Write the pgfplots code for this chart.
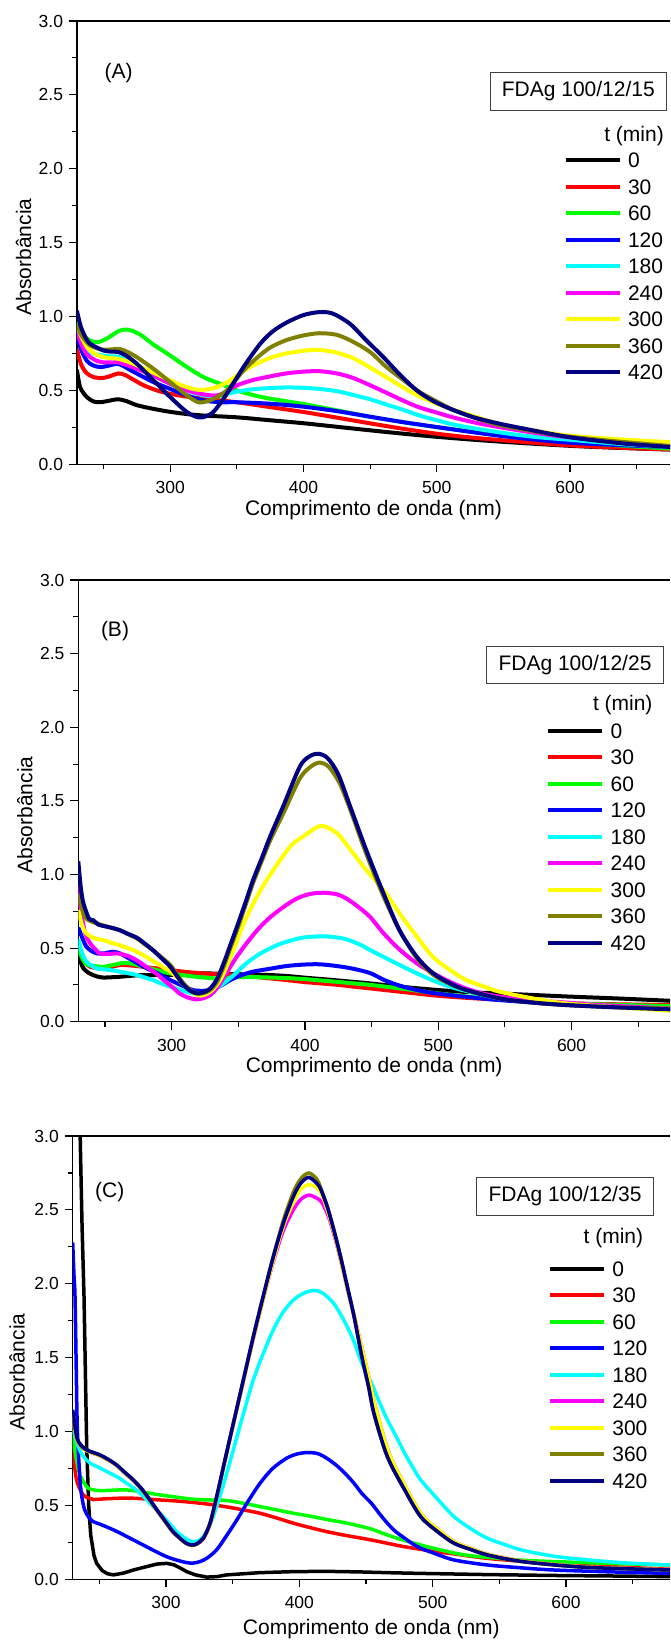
\documentclass[border=0pt]{standalone}
\usepackage{fontspec}
\setmainfont{Liberation Sans}
\usepackage{pgfplots}
\pgfplotsset{compat=1.18}
\definecolor{cRed}{RGB}{255,0,0}
\definecolor{cGreen}{RGB}{0,255,0}
\definecolor{cBlue}{RGB}{0,0,255}
\definecolor{cCyan}{RGB}{0,255,255}
\definecolor{cMag}{RGB}{255,0,255}
\definecolor{cYel}{RGB}{255,255,0}
\definecolor{cOlive}{RGB}{128,128,0}
\definecolor{cNavy}{RGB}{0,0,128}
\newcommand{\lbfont}{\fontsize{21}{21}\selectfont}
\newcommand{\tkfont}{\fontsize{17.5}{17.5}\selectfont}
\pgfplotsset{
  common/.style={
    scale only axis,
    xmin=230, ymin=0, ymax=3,
    axis x line*=box, axis y line*=left,
    axis line style={line width=1.3pt, -},
    xtick={300,400,500,600}, minor xtick={250,350,450,550,650},
    ytick={0,0.5,...,3.0}, minor ytick={0.25,0.75,...,2.75},
    xtick pos=left, ytick pos=left,
    tick align=outside,
    major tick length=8pt, minor tick length=5pt,
    every tick/.style={black, line width=1.1pt},
    /pgf/number format/assume math mode=true,
    xticklabel style={font=\tkfont, anchor=north, inner sep=0pt, yshift=-9pt},
    yticklabel style={font=\tkfont, anchor=east, inner sep=0pt, xshift=-5.7pt,
      /pgf/number format/fixed, /pgf/number format/fixed zerofill, /pgf/number format/precision=1},
    xlabel={Comprimento de onda (nm)}, ylabel={Absorbância},
    label style={font=\lbfont},
    xlabel style={anchor=center},
    ylabel style={anchor=center},
    every axis plot/.append style={smooth, line width=4pt},
    legend style={anchor=north west, draw=none, fill=none, inner xsep=0pt, inner ysep=0pt,
      row sep=0pt, column sep=6.5pt, font=\lbfont,
      nodes={inner sep=0pt, text height=20.75pt, text depth=5.75pt}},
    legend cell align=left,
    legend image code/.code={\draw[##1, line width=4pt] (0pt,0pt) -- (54pt,0pt);},
    legend entries={0,30,60,120,180,240,300,360,420},
  }
}
\begin{document}
\begin{tikzpicture}
\useasboundingbox (0,0) rectangle (670pt,-1641pt);
% ---------------- Panel A ----------------
\begin{axis}[common, at={(76.9pt,-21pt)}, anchor=north west,
  width=593.1pt, height=443.3pt, xmax=675,
  xlabel style={at={(axis description cs:0.5,-0.1031)}},
  ylabel style={at={(axis description cs:-0.0900,0.468)}},
  legend style={at={(axis description cs:0.8201,0.7163)}}]
\addplot[black] coordinates {(230,0.64) (232.5,0.52) (237.5,0.455) (242.5,0.425) (247.5,0.42) (254,0.43) (261,0.44) (268,0.425) (275,0.40) (287.5,0.375) (300,0.355) (312.5,0.34) (325,0.33) (350,0.318) (375,0.298) (400,0.278) (425,0.254) (450,0.23) (475,0.207) (500,0.186) (525,0.168) (550,0.152) (575,0.138) (600,0.125) (625,0.115) (650,0.107) (675,0.1)};
\addplot[cRed] coordinates {(230,0.78) (233,0.68) (237,0.62) (242.5,0.59) (250,0.585) (256,0.6) (261,0.615) (266,0.605) (272,0.575) (280,0.535) (290,0.5) (300,0.477) (312.5,0.458) (325,0.444) (337.5,0.432) (350,0.42) (375,0.387) (400,0.354) (425,0.316) (450,0.277) (475,0.24) (500,0.207) (525,0.182) (550,0.162) (575,0.144) (600,0.128) (625,0.117) (650,0.108) (675,0.1)};
\addplot[cGreen] coordinates {(230,0.97) (233,0.9) (237.5,0.85) (242,0.83) (246,0.827) (250,0.84) (255,0.865) (261,0.9) (266,0.912) (271,0.905) (278,0.875) (287.5,0.81) (300,0.736) (312.5,0.658) (325,0.59) (337.5,0.545) (350,0.5) (362.5,0.468) (375,0.444) (400,0.408) (425,0.365) (450,0.322) (475,0.285) (500,0.252) (525,0.222) (550,0.196) (575,0.172) (600,0.152) (637,0.127) (675,0.106)};
\addplot[cBlue] coordinates {(230,0.88) (233,0.78) (237.5,0.70) (242,0.67) (247.5,0.658) (254,0.668) (260,0.68) (265,0.665) (270,0.638) (278,0.6) (287.5,0.556) (300,0.51) (312.5,0.466) (325,0.432) (337.5,0.42) (350,0.42) (375,0.41) (400,0.39) (425,0.36) (450,0.322) (475,0.285) (500,0.252) (525,0.22) (550,0.19) (575,0.166) (600,0.146) (637,0.13) (675,0.117)};
\addplot[cCyan] coordinates {(230,0.92) (233,0.84) (237,0.78) (242,0.75) (250,0.736) (256,0.73) (261,0.728) (266,0.71) (272,0.685) (280,0.645) (287.5,0.6) (300,0.545) (312.5,0.5) (325,0.466) (335,0.462) (342,0.475) (350,0.492) (362,0.508) (375,0.516) (387,0.52) (400,0.518) (412,0.51) (425,0.495) (437,0.47) (450,0.44) (462,0.405) (475,0.368) (487,0.33) (500,0.298) (512,0.27) (525,0.248) (540,0.226) (560,0.2) (580,0.18) (600,0.166) (637,0.138) (675,0.117)};
\addplot[cMag] coordinates {(230,0.9) (233,0.82) (237,0.75) (240,0.725) (245,0.7) (250,0.69) (256,0.69) (261,0.69) (268,0.67) (275,0.646) (287.5,0.6) (300,0.545) (312.5,0.5) (325,0.473) (335,0.466) (342,0.49) (350,0.534) (362,0.57) (375,0.595) (387,0.615) (400,0.627) (412,0.63) (425,0.615) (437,0.585) (450,0.535) (462,0.485) (475,0.43) (487,0.385) (500,0.35) (512,0.318) (530,0.28) (548,0.25) (572,0.215) (597,0.185) (635,0.155) (675,0.128)};
\addplot[cYel] coordinates {(230,0.95) (233,0.87) (237,0.8) (240,0.77) (245,0.74) (250,0.725) (256,0.718) (261,0.714) (268,0.695) (275,0.67) (287.5,0.62) (300,0.568) (310,0.53) (320,0.505) (330,0.51) (337,0.53) (345,0.568) (353,0.62) (362.5,0.67) (375,0.72) (387,0.75) (400,0.768) (412,0.775) (425,0.755) (437,0.72) (450,0.655) (462,0.59) (475,0.52) (487,0.46) (500,0.41) (512,0.37) (530,0.32) (548,0.27) (572,0.23) (597,0.196) (635,0.17) (675,0.15)};
\addplot[cOlive] coordinates {(230,0.95) (233,0.88) (237,0.83) (240,0.804) (245,0.785) (250,0.775) (256,0.778) (262.5,0.78) (268,0.76) (275,0.725) (287.5,0.646) (300,0.556) (312.5,0.466) (321,0.42) (327,0.425) (333,0.445) (342.5,0.5) (355,0.635) (365,0.72) (375,0.79) (387,0.84) (400,0.872) (412,0.887) (425,0.876) (437,0.83) (450,0.76) (462,0.66) (475,0.57) (487,0.49) (500,0.425) (512,0.37) (530,0.31) (548,0.264) (572,0.225) (597,0.19) (635,0.155) (675,0.124)};
\addplot[cNavy] coordinates {(230,1.04) (233,0.93) (237,0.85) (240,0.815) (245,0.79) (250,0.77) (256,0.762) (261,0.76) (267,0.735) (275,0.68) (287.5,0.568) (300,0.455) (312.5,0.354) (321,0.318) (327,0.325) (333,0.36) (342.5,0.477) (355,0.658) (367.5,0.815) (377,0.9) (387.5,0.96) (400,1.01) (412,1.03) (422,1.02) (435,0.95) (447,0.84) (460,0.725) (472,0.61) (485,0.5) (497,0.43) (510,0.376) (527,0.32) (547,0.275) (572,0.23) (597,0.187) (622,0.158) (647,0.135) (675,0.117)};
\end{axis}
\node[draw=black!75, line width=0.8pt, minimum width=176.6pt, minimum height=37.3pt, inner sep=0pt, font=\lbfont] at (578.3pt,-91.35pt) {FDAg 100/12/15};
\node[anchor=base east, inner sep=0pt, font=\lbfont] at (664pt,-141.3pt) {t (min)};
\node[inner sep=0pt, font=\lbfont] at (118.6pt,-72.7pt) {(A)};
% ---------------- Panel B ----------------
\begin{axis}[common, at={(78.3pt,-580pt)}, anchor=north west,
  width=591.7pt, height=441.7pt, xmax=673.8,
  xlabel style={at={(axis description cs:0.5,-0.1032)}},
  ylabel style={at={(axis description cs:-0.0904,0.468)}},
  legend style={at={(axis description cs:0.7904,0.6888)}}]
\addplot[black] coordinates {(230,0.47) (232,0.4) (234,0.36) (238,0.33) (241,0.317) (245,0.305) (249,0.3) (255,0.302) (261,0.305) (274,0.315) (285,0.317) (299,0.318) (312,0.322) (324,0.328) (336,0.326) (349,0.323) (362,0.32) (374,0.317) (387,0.31) (399,0.3) (412,0.29) (425,0.28) (437,0.27) (449,0.26) (475,0.235) (500,0.215) (525,0.2) (550,0.19) (575,0.18) (600,0.17) (637,0.157) (674,0.142)};
\addplot[cRed] coordinates {(230,0.52) (233,0.44) (236,0.39) (239,0.373) (244,0.365) (249,0.362) (255,0.372) (261,0.385) (268,0.383) (274,0.378) (281,0.37) (289,0.362) (299,0.35) (311,0.338) (324,0.328) (336,0.322) (349,0.317) (361,0.306) (374,0.294) (387,0.282) (399,0.27) (412,0.26) (425,0.25) (437,0.238) (449,0.226) (475,0.2) (500,0.176) (525,0.16) (550,0.147) (575,0.135) (600,0.124) (637,0.118) (674,0.113)};
\addplot[cGreen] coordinates {(230,0.5) (233,0.43) (236,0.39) (240,0.38) (245,0.375) (249,0.373) (256,0.385) (262,0.397) (266,0.4) (272,0.39) (279,0.373) (289,0.35) (299,0.328) (311,0.313) (324,0.3) (336,0.294) (349,0.303) (361,0.303) (374,0.3) (387,0.296) (399,0.29) (412,0.28) (425,0.27) (437,0.26) (449,0.25) (475,0.222) (500,0.192) (525,0.168) (550,0.147) (575,0.133) (600,0.124) (637,0.114) (674,0.106)};
\addplot[cBlue] coordinates {(230,0.64) (233,0.57) (236,0.51) (240,0.48) (244,0.464) (250,0.465) (256,0.475) (261,0.465) (266,0.44) (272,0.41) (279,0.373) (289,0.33) (299,0.283) (308,0.245) (316,0.215) (323,0.21) (329,0.215) (337,0.245) (344,0.283) (352,0.315) (361,0.34) (374,0.36) (386,0.378) (399,0.388) (411,0.39) (424,0.378) (436,0.36) (449,0.33) (459,0.285) (471,0.245) (484,0.215) (496,0.195) (509,0.181) (525,0.165) (546,0.147) (571,0.13) (596,0.115) (635,0.098) (674,0.084)};
\addplot[cCyan] coordinates {(230,0.56) (233,0.46) (236,0.41) (240,0.38) (244,0.362) (250,0.355) (256,0.348) (261,0.34) (267,0.33) (274,0.317) (280,0.3) (286,0.283) (292,0.26) (299,0.238) (308,0.212) (316,0.192) (323,0.19) (329,0.204) (334,0.23) (339,0.26) (347,0.32) (356,0.396) (366,0.46) (379,0.52) (389,0.55) (399,0.572) (414,0.58) (424,0.572) (431,0.56) (441,0.525) (449,0.486) (459,0.44) (471,0.385) (484,0.328) (496,0.28) (509,0.237) (525,0.2) (546,0.158) (571,0.135) (596,0.12) (635,0.105) (674,0.09)};
\addplot[cMag] coordinates {(230,0.92) (232,0.75) (234,0.65) (236,0.58) (239,0.53) (243,0.49) (246,0.464) (252,0.46) (259,0.464) (264,0.455) (269,0.44) (275,0.41) (281,0.373) (288,0.33) (294,0.283) (300,0.24) (306,0.192) (312,0.165) (318,0.152) (323,0.158) (329,0.181) (335,0.24) (341,0.328) (348,0.43) (356,0.53) (365,0.63) (374,0.71) (384,0.78) (394,0.837) (404,0.868) (414,0.876) (424,0.865) (431,0.837) (440,0.78) (449,0.71) (459,0.6) (471,0.49) (484,0.396) (496,0.33) (509,0.27) (521,0.225) (534,0.19) (550,0.165) (571,0.147) (596,0.13) (621,0.113) (674,0.09)};
\addplot[cYel] coordinates {(230,0.76) (233,0.65) (236,0.6) (240,0.575) (245,0.56) (249,0.554) (255,0.535) (261,0.52) (267,0.5) (274,0.475) (281,0.44) (289,0.396) (299,0.34) (304,0.3) (309,0.25) (314,0.21) (319,0.18) (324,0.18) (329,0.204) (334,0.25) (339,0.328) (346,0.48) (354,0.667) (364,0.85) (374,1.0) (389,1.19) (399,1.26) (412,1.33) (424,1.28) (434,1.17) (446,1.03) (459,0.894) (471,0.735) (484,0.577) (496,0.44) (509,0.35) (521,0.283) (534,0.24) (546,0.204) (571,0.158) (596,0.124) (635,0.097) (674,0.075)};
\addplot[cOlive] coordinates {(230,0.87) (233,0.76) (236,0.7) (240,0.68) (244,0.667) (250,0.65) (256,0.635) (261,0.622) (267,0.595) (274,0.565) (280,0.525) (286,0.486) (292,0.44) (299,0.385) (304,0.32) (309,0.26) (314,0.215) (319,0.192) (324,0.195) (329,0.215) (334,0.27) (339,0.373) (344,0.5) (349,0.622) (355,0.78) (361,0.94) (368,1.1) (374,1.233) (384,1.42) (396,1.65) (404,1.73) (411,1.76) (418,1.73) (426,1.62) (434,1.44) (446,1.14) (459,0.85) (471,0.62) (484,0.43) (496,0.32) (509,0.255) (521,0.215) (546,0.158) (571,0.13) (596,0.113) (635,0.098) (674,0.09)};
\addplot[cNavy] coordinates {(230,1.09) (232,0.9) (234,0.8) (238,0.7) (241,0.69) (245,0.66) (249,0.65) (255,0.638) (261,0.622) (267,0.598) (274,0.57) (280,0.53) (286,0.486) (292,0.435) (299,0.373) (304,0.31) (309,0.25) (314,0.21) (319,0.192) (324,0.2) (329,0.226) (334,0.29) (339,0.396) (344,0.52) (349,0.645) (355,0.8) (361,0.96) (368,1.12) (374,1.26) (384,1.47) (396,1.73) (403,1.8) (410,1.82) (417,1.79) (425,1.68) (434,1.46) (446,1.165) (459,0.87) (471,0.62) (484,0.44) (496,0.33) (509,0.26) (521,0.215) (546,0.158) (571,0.13) (596,0.113) (635,0.097) (674,0.084)};
\end{axis}
\node[draw=black!75, line width=0.8pt, minimum width=176.6pt, minimum height=37.3pt, inner sep=0pt, font=\lbfont] at (575pt,-664.65pt) {FDAg 100/12/25};
\node[anchor=base east, inner sep=0pt, font=\lbfont] at (652.7pt,-710.8pt) {t (min)};
\node[inner sep=0pt, font=\lbfont] at (115pt,-630.7pt) {(B)};
% ---------------- Panel C ----------------
\begin{axis}[common, at={(72.7pt,-1136pt)}, anchor=north west,
  width=597.3pt, height=443.3pt, xmax=678,
  every axis plot/.append style={line width=3.5pt},
  xlabel style={at={(axis description cs:0.5,-0.1117)}},
  ylabel style={at={(axis description cs:-0.0931,0.468)}},
  legend style={at={(axis description cs:0.7952,0.7314)}}]
\addplot[black, sharp plot] coordinates {(233,3.6) (235.5,3.04) (237,2.4) (238.5,1.91) (240.5,0.9) (242,0.5) (243.5,0.3) (246,0.16) (248,0.108) (252,0.06) (256,0.038) (260.5,0.03) (268,0.042) (275.5,0.063) (285,0.085) (293,0.103) (300.5,0.108) (306,0.098) (311,0.075) (315.5,0.052) (322,0.03) (330.5,0.015) (338,0.018) (345.5,0.03) (370,0.045) (395.5,0.052) (420,0.054) (445.5,0.05) (466,0.045) (491,0.04) (541,0.032) (591,0.026) (641,0.022) (678,0.018)};
\addplot[cRed] coordinates {(230,0.9) (232,0.72) (234,0.64) (238,0.57) (242,0.55) (245.5,0.54) (255,0.545) (270.5,0.55) (283,0.545) (295.5,0.537) (308,0.53) (320.5,0.52) (333,0.507) (345.5,0.49) (358,0.47) (370.5,0.447) (383,0.415) (395.5,0.38) (408,0.35) (420.5,0.323) (433,0.3) (445.5,0.28) (454,0.266) (466,0.244) (478,0.222) (491,0.203) (503,0.186) (516,0.172) (528,0.157) (541,0.142) (566,0.122) (591,0.104) (635,0.085) (678,0.068)};
\addplot[cGreen] coordinates {(230,1.01) (232,0.85) (235,0.72) (238,0.66) (241.75,0.616) (246,0.605) (250.5,0.6) (260,0.603) (270.5,0.605) (283,0.59) (295.5,0.571) (308,0.556) (320.5,0.542) (333,0.537) (345.5,0.533) (358,0.515) (370.5,0.492) (383,0.47) (395.5,0.447) (408,0.428) (420.5,0.405) (433,0.385) (445.5,0.36) (454,0.34) (466,0.3) (478,0.265) (491,0.232) (503,0.205) (516,0.178) (528,0.16) (541,0.149) (566,0.13) (591,0.12) (635,0.107) (678,0.097)};
\addplot[cBlue] coordinates {(230,2.28) (231,2.05) (231.75,1.91) (232.7,1.4) (233.5,1.01) (235.5,0.67) (237,0.55) (239,0.47) (242,0.42) (245.5,0.39) (250,0.375) (258,0.345) (264,0.32) (270.5,0.29) (278,0.255) (285.5,0.22) (293,0.185) (300.5,0.153) (308,0.13) (315.5,0.113) (320.5,0.11) (325.5,0.12) (331,0.145) (338,0.2) (345,0.29) (353,0.4) (361,0.52) (370.5,0.65) (380,0.75) (390.5,0.82) (399,0.85) (407,0.858) (414,0.85) (420.5,0.82) (428,0.77) (435,0.71) (441,0.65) (447,0.58) (454,0.515) (460,0.445) (466,0.38) (472,0.325) (479,0.278) (485,0.24) (491,0.21) (500,0.18) (516,0.131) (541,0.097) (566,0.078) (591,0.063) (635,0.05) (678,0.04)};
\addplot[cCyan] coordinates {(230,1.03) (233,0.93) (236,0.86) (240,0.81) (243,0.786) (250,0.755) (258,0.718) (264,0.69) (270.5,0.65) (277,0.61) (283,0.56) (289,0.505) (295.5,0.447) (302,0.385) (308,0.323) (314,0.28) (319.25,0.255) (324,0.26) (328,0.29) (333,0.37) (338,0.492) (344,0.67) (350.5,0.876) (358,1.12) (365.5,1.35) (373,1.53) (380.5,1.69) (388,1.81) (395.5,1.89) (403,1.935) (410.5,1.955) (417,1.94) (425.5,1.87) (433,1.76) (440.5,1.62) (447,1.46) (454,1.33) (460,1.2) (466,1.08) (473,0.96) (479,0.853) (485,0.76) (491,0.673) (504,0.54) (516,0.424) (529,0.34) (541,0.278) (554,0.235) (566,0.2) (585,0.165) (604,0.142) (641,0.113) (678,0.097)};
\addplot[cMag] coordinates {(230,1.1) (233,0.95) (236,0.9) (240.5,0.87) (245,0.855) (250.5,0.835) (257,0.805) (263,0.77) (269,0.72) (275.5,0.668) (282,0.605) (288,0.532) (294,0.455) (300.5,0.375) (305,0.32) (310.5,0.275) (315,0.243) (319.25,0.23) (323,0.238) (328,0.275) (333,0.375) (338,0.555) (344,0.795) (350.5,1.05) (358,1.34) (365.5,1.63) (373,1.9) (380.5,2.15) (388,2.36) (395.5,2.5) (401,2.57) (407,2.6) (413,2.58) (417,2.55) (422,2.45) (427,2.3) (432,2.12) (437,1.93) (442,1.75) (446.5,1.58) (450,1.45) (453,1.33) (457,1.17) (467,0.86) (480,0.62) (492,0.435) (505,0.33) (517,0.25) (530,0.205) (542,0.168) (561,0.132) (580,0.11) (617,0.083) (678,0.064)};
\addplot[cYel] coordinates {(230,1.1) (233,0.95) (236,0.9) (240.5,0.87) (245,0.855) (250.5,0.835) (257,0.805) (263,0.77) (269,0.72) (275.5,0.668) (282,0.605) (288,0.532) (294,0.455) (300.5,0.375) (305,0.32) (310.5,0.275) (315,0.243) (319.25,0.23) (323,0.238) (328,0.275) (333,0.375) (338,0.555) (344,0.795) (350.5,1.05) (358,1.34) (365.5,1.63) (373,1.9) (380.5,2.16) (388,2.39) (395.5,2.55) (401,2.64) (407,2.67) (413,2.65) (417,2.6) (422,2.47) (427,2.31) (432,2.12) (437,1.93) (442,1.75) (446.5,1.58) (450,1.45) (453,1.33) (457,1.17) (467,0.86) (480,0.62) (492,0.435) (505,0.33) (517,0.25) (530,0.205) (542,0.168) (561,0.132) (580,0.11) (617,0.083) (678,0.064)};
\addplot[cOlive] coordinates {(230,1.12) (233,0.96) (236,0.905) (240.5,0.873) (245,0.857) (250.5,0.84) (257,0.808) (263,0.772) (269,0.723) (275.5,0.67) (282,0.607) (288,0.535) (294,0.458) (300.5,0.378) (305,0.323) (310.5,0.277) (315,0.244) (319.25,0.231) (323,0.239) (328,0.277) (333,0.378) (338,0.558) (344,0.8) (350.5,1.056) (358,1.35) (365.5,1.643) (373,1.92) (380.5,2.185) (388,2.43) (395.5,2.62) (401,2.71) (407,2.75) (413,2.71) (416,2.65) (421,2.52) (426,2.36) (431,2.18) (436,1.98) (441,1.78) (447,1.5) (452,1.3) (456,1.12) (466,0.83) (479,0.605) (491,0.424) (504,0.32) (516,0.244) (529,0.2) (541,0.165) (560,0.13) (579,0.108) (616,0.081) (678,0.063)};
\addplot[cNavy] coordinates {(230,1.147) (233,0.966) (236,0.91) (240.5,0.876) (245,0.86) (250.5,0.842) (257,0.81) (263,0.774) (269,0.725) (275.5,0.673) (282,0.61) (288,0.537) (294,0.46) (300.5,0.38) (305,0.325) (310.5,0.278) (315,0.245) (319.25,0.232) (323,0.24) (328,0.278) (333,0.38) (338,0.56) (344,0.8) (350.5,1.056) (358,1.35) (365.5,1.643) (373,1.92) (380.5,2.185) (388,2.41) (395.5,2.59) (401,2.68) (407,2.72) (413,2.68) (416,2.64) (421,2.52) (426,2.36) (431,2.18) (436,1.98) (441,1.78) (447,1.5) (452,1.3) (456,1.12) (466,0.83) (479,0.605) (491,0.424) (504,0.32) (516,0.244) (529,0.2) (541,0.165) (560,0.13) (579,0.108) (616,0.081) (678,0.063)};
\end{axis}
\node[draw=black!75, line width=0.8pt, minimum width=176.6pt, minimum height=37.3pt, inner sep=0pt, font=\lbfont] at (565pt,-1196.35pt) {FDAg 100/12/35};
\node[anchor=base east, inner sep=0pt, font=\lbfont] at (643.3pt,-1243.8pt) {t (min)};
\node[inner sep=0pt, font=\lbfont] at (109.7pt,-1191.7pt) {(C)};
\end{tikzpicture}
\end{document}
